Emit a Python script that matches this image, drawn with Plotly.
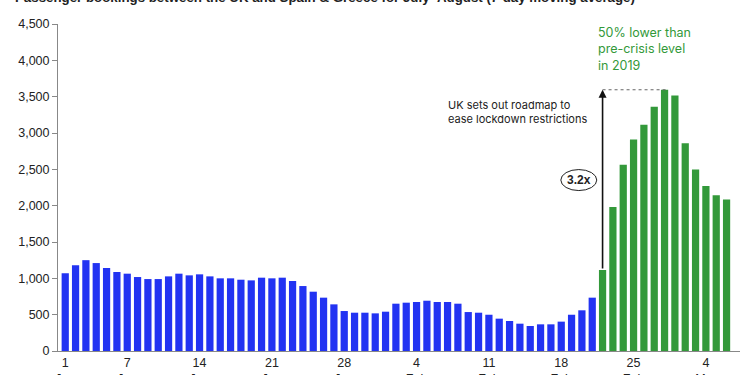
import plotly.graph_objects as go

# Data: daily passenger bookings (7-day moving average), 1 Jan - 6 Mar
blue_values = [1070, 1180, 1250, 1210, 1142, 1087, 1064, 1018, 990, 990,
               1027, 1064, 1041, 1055, 1027, 1000, 1000, 981, 972, 1009,
               1000, 1009, 963, 894, 816, 734, 642, 550, 527, 527,
               518, 541, 651, 665, 674, 692, 674, 674, 651, 536,
               527, 499, 445, 413, 376, 344, 367, 367, 404, 499,
               560, 734]
green_values = [1115, 1980, 2562, 2912, 3115, 3362, 3595, 3515, 2858, 2497,
                2271, 2142, 2085]

tick_days = [0, 6, 13, 20, 27, 34, 41, 48, 55, 62]
tick_labels = ["1<br>Jan", "7<br>Jan", "14<br>Jan", "21<br>Jan", "28<br>Jan",
               "4<br>Feb", "11<br>Feb", "18<br>Feb", "25<br>Feb", "4<br>Mar"]

title_text = "Passenger bookings between the UK and Spain & Greece for July–August (7-day moving average)"
event_lines = ["UK sets out roadmap to", "ease lockdown restrictions"]
green_lines = ["50% lower than", "pre-crisis level", "in 2019"]
ratio_label = "3.2x"

blue_x = list(range(len(blue_values)))
green_x = list(range(len(blue_values), len(blue_values) + len(green_values)))

BLUE = "#2233f2"
GREEN = "#33993a"
AXIS_FONT = "Liberation Sans, Arial, sans-serif"
TEXT_FONT = "Inter, Roboto, sans-serif"

fig = go.Figure()
fig.add_trace(go.Bar(x=blue_x, y=blue_values, marker=dict(color=BLUE, line=dict(width=0)),
                     showlegend=False))
fig.add_trace(go.Bar(x=green_x, y=green_values, marker=dict(color=GREEN, line=dict(width=0)),
                     showlegend=False))

start_x = green_x[0]
start_y = green_values[0]
peak_i = max(range(len(green_values)), key=lambda i: green_values[i])
peak_x = green_x[peak_i]
peak_y = green_values[peak_i]

annotations = []
# Title (partly cut off at the top, as in the reference)
annotations.append(dict(text="<b>" + title_text + "</b>", xref="paper", yref="paper",
                        x=-0.066, y=1.08, xanchor="left", yanchor="middle",
                        showarrow=False, font=dict(family=AXIS_FONT, size=13.3, color="#222")))
# Arrow from first green bar to peak
annotations.append(dict(x=start_x, y=peak_y, ax=start_x, ay=start_y, xref="x", yref="y",
                        axref="x", ayref="y", showarrow=True, arrowhead=2, arrowsize=1,
                        arrowwidth=1.6, arrowcolor="#111", text=""))
# Ratio label inside ellipse
annotations.append(dict(x=49.7, y=2352, xref="x", yref="y", text="<b>" + ratio_label + "</b>",
                        showarrow=False, font=dict(family=AXIS_FONT, size=12, color="#222")))
# Event text
annotations.append(dict(x=36.9, y=3290, xref="x", yref="y", text="<br>".join(event_lines),
                        xanchor="left", yanchor="middle", align="left", showarrow=False,
                        borderpad=0, font=dict(family=TEXT_FONT, size=11, color="#222")))
# Green text
annotations.append(dict(x=51.45, y=4156, xref="x", yref="y", text="<br>".join(green_lines),
                        xanchor="left", yanchor="middle", align="left", showarrow=False,
                        borderpad=0, font=dict(family=TEXT_FONT, size=12.5, color=GREEN)))

shapes = [
    dict(type="line", xref="x", yref="y", x0=start_x, x1=peak_x + 0.35, y0=peak_y, y1=peak_y,
         line=dict(color="#666", width=1, dash="dot")),
    dict(type="circle", xref="x", yref="y", x0=47.96, x1=51.44, y0=2208, y1=2497,
         line=dict(color="#222", width=1)),
]

fig.update_layout(
    width=750, height=375,
    margin=dict(l=58, r=10, t=24, b=24, autoexpand=False),
    paper_bgcolor="white", plot_bgcolor="white",
    bargap=0.3,
    annotations=annotations,
    shapes=shapes,
    xaxis=dict(range=[-0.7, 65.3], tickmode="array", tickvals=tick_days, ticktext=tick_labels,
               automargin=False,
               showgrid=False, zeroline=False, showline=True, linecolor="#888", linewidth=1,
               ticks="", tickfont=dict(family=AXIS_FONT, size=12.5, color="#222")),
    yaxis=dict(range=[0, 4500], tickmode="array", tickvals=list(range(0, 4501, 500)),
               automargin=False,
               tickformat=",d", showgrid=False, zeroline=False, showline=True,
               linecolor="#888", linewidth=1, ticks="outside", ticklen=5, tickcolor="#888",
               tickfont=dict(family=AXIS_FONT, size=12.5, color="#222")),
)

fig.write_html("out.html")
